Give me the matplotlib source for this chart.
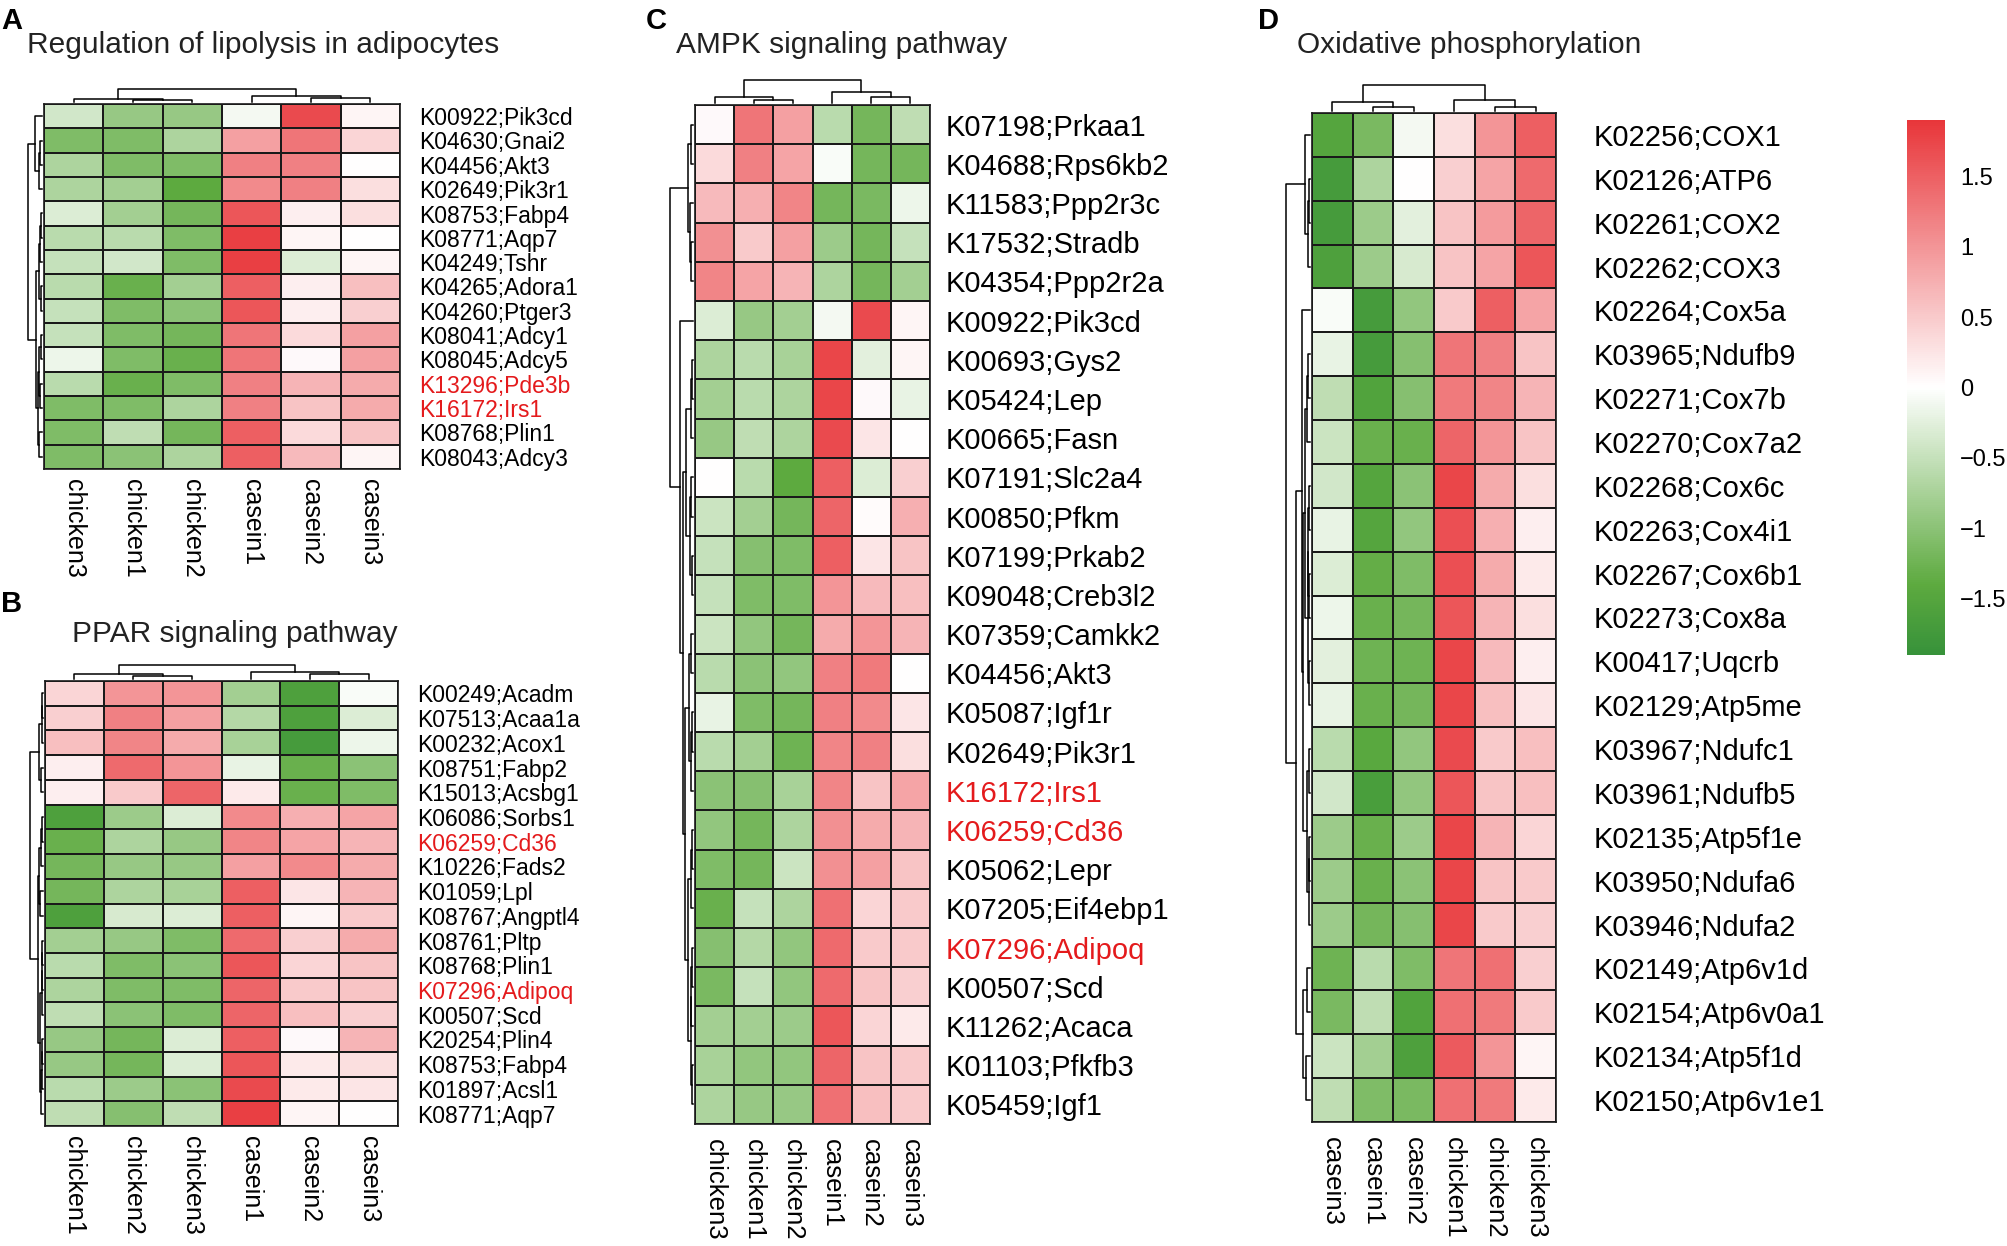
import numpy as np
import matplotlib
matplotlib.use("Agg")
import matplotlib.pyplot as plt
from matplotlib.colors import LinearSegmentedColormap, Normalize
from matplotlib.cm import ScalarMappable

plt.rcParams['font.family'] = ['Liberation Sans', 'DejaVu Sans']

# ---------------- data ----------------
a_title = "Regulation of lipolysis in adipocytes"
a_cols = ["chicken3", "chicken1", "chicken2", "casein1", "casein2", "casein3"]
a_rows = ["K00922;Pik3cd", "K04630;Gnai2", "K04456;Akt3", "K02649;Pik3r1", "K08753;Fabp4",
          "K08771;Aqp7", "K04249;Tshr", "K04265;Adora1", "K04260;Ptger3", "K08041;Adcy1",
          "K08045;Adcy5", "K13296;Pde3b", "K16172;Irs1", "K08768;Plin1", "K08043;Adcy3"]
a_red = ["K13296;Pde3b", "K16172;Irs1"]
a_vals = [
    [-0.40, -0.90, -0.90, -0.10, 1.70, 0.10],
    [-1.10, -1.10, -0.70, 0.90, 1.30, 0.40],
    [-0.70, -1.10, -1.10, 1.20, 1.20, 0.00],
    [-0.70, -0.80, -1.40, 1.10, 1.20, 0.30],
    [-0.30, -0.80, -1.20, 1.60, 0.15, 0.30],
    [-0.60, -0.60, -1.10, 1.80, 0.10, 0.00],
    [-0.50, -0.40, -1.10, 1.80, -0.30, 0.10],
    [-0.60, -1.30, -0.80, 1.50, 0.15, 0.60],
    [-0.50, -1.10, -1.00, 1.60, 0.15, 0.45],
    [-0.50, -1.10, -1.20, 1.30, 0.35, 0.90],
    [-0.15, -1.10, -1.30, 1.30, 0.05, 0.90],
    [-0.60, -1.30, -1.10, 1.20, 0.70, 0.80],
    [-1.10, -1.10, -0.70, 1.20, 0.55, 0.80],
    [-1.10, -0.55, -1.20, 1.50, 0.35, 0.55],
    [-1.10, -1.00, -0.70, 1.50, 0.65, 0.10],
]
a_row_tree = [(1, 2, .12), (15, 3, .2), (0, 16, .48), (4, 5, .08), (18, 6, .15), (7, 8, .08),
              (19, 20, .22), (9, 10, .1), (11, 12, .12), (22, 23, .2), (13, 14, .18),
              (24, 25, .3), (21, 26, .45), (17, 27, 1.0)]
a_col_tree = [(1, 2, .12), (0, 6, .25), (4, 5, .3), (3, 8, .5), (7, 9, 1.0)]

b_title = "PPAR signaling pathway"
b_cols = ["chicken1", "chicken2", "chicken3", "casein1", "casein2", "casein3"]
b_rows = ["K00249;Acadm", "K07513;Acaa1a", "K00232;Acox1", "K08751;Fabp2", "K15013;Acsbg1",
          "K06086;Sorbs1", "K06259;Cd36", "K10226;Fads2", "K01059;Lpl", "K08767;Angptl4",
          "K08761;Pltp", "K08768;Plin1", "K07296;Adipoq", "K00507;Scd", "K20254;Plin4",
          "K08753;Fabp4", "K01897;Acsl1", "K08771;Aqp7"]
b_red = ["K06259;Cd36", "K07296;Adipoq"]
b_vals = [
    [0.40, 1.00, 1.00, -0.80, -1.60, -0.05],
    [0.45, 1.20, 0.90, -0.65, -1.60, -0.30],
    [0.60, 1.15, 0.80, -0.75, -1.70, -0.15],
    [0.15, 1.40, 1.00, -0.20, -1.30, -1.00],
    [0.15, 0.50, 1.45, 0.20, -1.30, -1.10],
    [-1.60, -0.85, -0.30, 1.10, 0.75, 0.85],
    [-1.30, -0.70, -0.90, 1.15, 0.85, 0.70],
    [-1.20, -0.90, -0.90, 0.90, 1.10, 0.80],
    [-1.20, -0.70, -0.75, 1.50, 0.25, 0.70],
    [-1.60, -0.35, -0.30, 1.50, 0.10, 0.50],
    [-0.80, -0.90, -1.10, 1.40, 0.45, 0.80],
    [-0.60, -1.10, -1.00, 1.60, 0.40, 0.55],
    [-0.70, -1.10, -1.10, 1.45, 0.50, 0.55],
    [-0.55, -1.00, -1.10, 1.45, 0.60, 0.45],
    [-0.90, -1.20, -0.30, 1.50, 0.05, 0.70],
    [-0.90, -1.20, -0.30, 1.60, 0.20, 0.30],
    [-0.60, -0.85, -1.00, 1.70, 0.20, 0.25],
    [-0.55, -1.05, -0.55, 1.80, 0.10, 0.00],
]
b_row_tree = [(0, 1, .05), (18, 2, .1), (3, 4, .15), (19, 20, .3), (5, 6, .08), (22, 7, .12),
              (8, 9, .2), (23, 24, .3), (10, 11, .05), (26, 12, .08), (27, 13, .1),
              (14, 15, .08), (29, 16, .1), (30, 17, .12), (28, 31, .2), (25, 32, .4),
              (21, 33, 1.0)]
b_col_tree = [(1, 2, .2), (0, 6, .33), (4, 5, .38), (3, 8, .5), (7, 9, 1.0)]

c_title = "AMPK signaling pathway"
c_cols = ["chicken3", "chicken1", "chicken2", "casein1", "casein2", "casein3"]
c_rows = ["K07198;Prkaa1", "K04688;Rps6kb2", "K11583;Ppp2r3c", "K17532;Stradb", "K04354;Ppp2r2a",
          "K00922;Pik3cd", "K00693;Gys2", "K05424;Lep", "K00665;Fasn", "K07191;Slc2a4",
          "K00850;Pfkm", "K07199;Prkab2", "K09048;Creb3l2", "K07359;Camkk2", "K04456;Akt3",
          "K05087;Igf1r", "K02649;Pik3r1", "K16172;Irs1", "K06259;Cd36", "K05062;Lepr",
          "K07205;Eif4ebp1", "K07296;Adipoq", "K00507;Scd", "K11262;Acaca", "K01103;Pfkfb3",
          "K05459;Igf1"]
c_red = ["K16172;Irs1", "K06259;Cd36", "K07296;Adipoq"]
c_vals = [
    [0.05, 1.30, 0.90, -0.60, -1.20, -0.55],
    [0.35, 1.20, 0.85, -0.05, -1.20, -1.20],
    [0.65, 0.75, 1.15, -1.20, -1.15, -0.15],
    [1.05, 0.50, 0.90, -0.85, -1.20, -0.50],
    [1.15, 0.85, 0.70, -0.70, -1.20, -0.80],
    [-0.30, -0.90, -0.80, -0.10, 1.70, 0.10],
    [-0.70, -0.60, -0.75, 1.75, -0.25, 0.10],
    [-0.80, -0.60, -0.70, 1.75, 0.05, -0.20],
    [-0.90, -0.55, -0.70, 1.70, 0.25, 0.00],
    [0.00, -0.60, -1.40, 1.50, -0.30, 0.45],
    [-0.45, -0.80, -1.20, 1.45, 0.03, 0.75],
    [-0.50, -1.05, -1.10, 1.50, 0.25, 0.55],
    [-0.50, -1.10, -1.10, 1.00, 0.65, 0.60],
    [-0.45, -0.95, -1.20, 0.80, 1.00, 0.70],
    [-0.60, -1.00, -0.95, 1.20, 1.25, 0.00],
    [-0.20, -1.10, -1.20, 1.20, 1.10, 0.25],
    [-0.60, -0.80, -1.25, 1.15, 1.20, 0.30],
    [-1.00, -1.05, -0.75, 1.15, 0.55, 0.85],
    [-0.95, -1.20, -0.70, 1.05, 0.80, 0.70],
    [-1.10, -1.20, -0.45, 1.05, 0.90, 0.55],
    [-1.30, -0.50, -0.70, 1.35, 0.40, 0.50],
    [-1.05, -0.65, -0.95, 1.40, 0.50, 0.50],
    [-1.15, -0.50, -0.95, 1.40, 0.55, 0.45],
    [-0.80, -0.80, -0.85, 1.60, 0.40, 0.20],
    [-0.75, -0.95, -0.95, 1.45, 0.55, 0.50],
    [-0.70, -0.90, -0.90, 1.35, 0.60, 0.50],
]
c_row_tree = [(0, 1, .1), (3, 4, .1), (2, 27, .15), (26, 28, .22), (6, 7, .05), (30, 8, .08),
              (9, 10, .1), (11, 12, .05), (32, 33, .15), (31, 34, .3), (13, 14, .08),
              (15, 16, .06), (37, 17, .1), (36, 38, .18), (18, 19, .05), (40, 20, .1),
              (21, 22, .04), (42, 23, .07), (24, 25, .05), (43, 44, .1), (41, 45, .2),
              (39, 46, .35), (35, 47, .45), (5, 48, .55), (29, 49, 1.0)]
c_col_tree = [(1, 2, .11), (0, 6, .27), (4, 5, .24), (3, 8, .48), (7, 9, 1.0)]

d_title = "Oxidative phosphorylation"
d_cols = ["casein3", "casein1", "casein2", "chicken1", "chicken2", "chicken3"]
d_rows = ["K02256;COX1", "K02126;ATP6", "K02261;COX2", "K02262;COX3", "K02264;Cox5a",
          "K03965;Ndufb9", "K02271;Cox7b", "K02270;Cox7a2", "K02268;Cox6c", "K02263;Cox4i1",
          "K02267;Cox6b1", "K02273;Cox8a", "K00417;Uqcrb", "K02129;Atp5me", "K03967;Ndufc1",
          "K03961;Ndufb5", "K02135;Atp5f1e", "K03950;Ndufa6", "K03946;Ndufa2", "K02149;Atp6v1d",
          "K02154;Atp6v0a1", "K02134;Atp5f1d", "K02150;Atp6v1e1"]
d_red = []
d_vals = [
    [-1.50, -1.15, -0.10, 0.30, 1.00, 1.50],
    [-1.70, -0.70, 0.00, 0.45, 0.85, 1.40],
    [-1.70, -0.85, -0.25, 0.55, 0.95, 1.45],
    [-1.60, -0.85, -0.35, 0.55, 0.85, 1.60],
    [-0.05, -1.70, -0.95, 0.50, 1.50, 0.85],
    [-0.20, -1.70, -1.05, 1.30, 1.20, 0.55],
    [-0.55, -1.55, -1.05, 1.25, 1.15, 0.70],
    [-0.45, -1.30, -1.30, 1.45, 1.00, 0.55],
    [-0.40, -1.50, -1.00, 1.75, 0.80, 0.30],
    [-0.20, -1.50, -0.95, 1.65, 0.75, 0.15],
    [-0.30, -1.35, -1.10, 1.65, 0.80, 0.20],
    [-0.15, -1.30, -1.20, 1.60, 0.70, 0.30],
    [-0.25, -1.25, -1.25, 1.75, 0.65, 0.15],
    [-0.20, -1.30, -1.20, 1.75, 0.60, 0.25],
    [-0.60, -1.45, -0.95, 1.70, 0.50, 0.60],
    [-0.40, -1.65, -0.95, 1.60, 0.55, 0.60],
    [-0.85, -1.30, -0.85, 1.75, 0.70, 0.40],
    [-0.85, -1.30, -1.00, 1.75, 0.55, 0.50],
    [-0.85, -1.20, -1.05, 1.75, 0.50, 0.45],
    [-1.25, -0.60, -1.10, 1.30, 1.35, 0.45],
    [-1.15, -0.55, -1.55, 1.35, 1.25, 0.50],
    [-0.45, -0.80, -1.60, 1.55, 1.00, 0.10],
    [-0.55, -1.10, -1.15, 1.35, 1.25, 0.20],
]
d_row_tree = [(1, 2, .05), (23, 3, .1), (0, 24, .22), (5, 6, .08), (26, 7, .12), (8, 9, .04),
              (10, 11, .04), (28, 29, .07), (12, 13, .04), (30, 31, .1), (27, 32, .2),
              (14, 15, .06), (16, 17, .04), (35, 18, .06), (34, 36, .12), (33, 37, .28),
              (4, 38, .35), (19, 20, .12), (21, 22, .15), (40, 41, .3), (39, 42, .6),
              (25, 43, 1.0)]
d_col_tree = [(1, 2, .17), (0, 6, .35), (4, 5, .17), (3, 8, .43), (7, 9, 1.0)]

cbar_ticks = [1.5, 1, 0.5, 0, -0.5, -1, -1.5]
cbar_labels = ["1.5", "1", "0.5", "0", "\u22120.5", "\u22121", "\u22121.5"]

# ---------------- style ----------------
W, H = 2008, 1246
VMIN, VMAX = -1.9, 1.9
cmap = LinearSegmentedColormap.from_list(
    "gwr", [(0.0, "#37923A"), (0.13, "#5DAA3F"), (0.5, "#FFFFFF"), (1.0, "#E8363A")])
norm = Normalize(VMIN, VMAX)
RED_TXT = "#E41A1C"

fig = plt.figure(figsize=(W / 100, H / 100), dpi=100)


def px_axes(x0, y0, x1, y1):
    return fig.add_axes([x0 / W, 1 - y1 / H, (x1 - x0) / W, (y1 - y0) / H])


def draw_tree(ax, merges, n, side):
    pos = {i: i + 0.5 for i in range(n)}
    hgt = {i: 0.0 for i in range(n)}
    for k, (a, b, h) in enumerate(merges):
        xs = [pos[a], pos[a], pos[b], pos[b]]
        ys = [hgt[a], h, h, hgt[b]]
        if side == "top":
            ax.plot(xs, ys, color="black", lw=1.1, clip_on=False)
        else:
            ax.plot(ys, xs, color="black", lw=1.1, clip_on=False)
        pos[n + k] = (pos[a] + pos[b]) / 2
        hgt[n + k] = h
    ax.axis("off")


def panel(hm, vals, rows, cols, red, row_tree, col_tree, rd_x0, cd_y0,
          row_fs, col_fs, row_pad, col_pad):
    x0, y0, x1, y1 = hm
    data = np.array(vals)
    nr, nc = data.shape
    ax = px_axes(x0, y0, x1, y1)
    ax.pcolormesh(np.arange(nc + 1), np.arange(nr + 1), data, cmap=cmap, norm=norm,
                  edgecolors="#1a1a1a", linewidth=1.2)
    ax.set_xlim(0, nc)
    ax.set_ylim(nr, 0)
    for s in ax.spines.values():
        s.set_linewidth(1.2)
        s.set_color("#1a1a1a")
    ax.yaxis.tick_right()
    ax.set_yticks(np.arange(nr) + 0.5)
    ax.set_yticklabels(rows, fontsize=row_fs)
    for t in ax.get_yticklabels():
        if t.get_text() in red:
            t.set_color(RED_TXT)
    ax.set_xticks(np.arange(nc) + 0.5)
    ax.set_xticklabels(cols, fontsize=col_fs, rotation=270, ha="center", va="top")
    ax.tick_params(axis="y", length=0, pad=row_pad)
    ax.tick_params(axis="x", length=0, pad=col_pad)

    # row dendrogram (left)
    rd = px_axes(rd_x0, y0, x0 - 2, y1)
    rd.set_ylim(nr, 0)
    rd.set_xlim(1.0, 0)
    draw_tree(rd, row_tree, nr, "left")

    # column dendrogram (top)
    cd = px_axes(x0, cd_y0, x1, y0 - 2)
    cd.set_xlim(0, nc)
    cd.set_ylim(0, 1.0)
    draw_tree(cd, col_tree, nc, "top")
    return ax


def title(x, y, s):
    fig.text(x / W, 1 - y / H, s, fontsize=21.5, color="#222222", ha="left", va="center")


def letter(x, y, s):
    fig.text(x / W, 1 - y / H, s, fontsize=21, fontweight="bold", ha="left", va="top")


# panel A
letter(1, 7, "A")
title(27, 45, a_title)
panel((44, 104, 400, 469), a_vals, a_rows, a_cols, a_red, a_row_tree, a_col_tree,
      28, 89, 16.5, 18, 14, 7)

# panel B
letter(1, 590, "B")
title(72, 634, b_title)
panel((45, 681, 398, 1126), b_vals, b_rows, b_cols, b_red, b_row_tree, b_col_tree,
      30, 665, 16.5, 18, 14, 7)

# panel C
letter(646, 7, "C")
title(676, 45, c_title)
panel((695, 105, 930, 1124), c_vals, c_rows, c_cols, c_red, c_row_tree, c_col_tree,
      670, 80, 21, 18.5, 11, 11)

# panel D
letter(1258, 7, "D")
title(1297, 45, d_title)
panel((1312, 113, 1556, 1122), d_vals, d_rows, d_cols, d_red, d_row_tree, d_col_tree,
      1286, 85, 21, 18.5, 27, 11)

# colour key
cax = px_axes(1907, 120, 1945, 655)
cb = fig.colorbar(ScalarMappable(norm=norm, cmap=cmap), cax=cax)
cb.outline.set_visible(False)
cb.set_ticks(cbar_ticks)
cb.set_ticklabels(cbar_labels)
cax.tick_params(length=0, labelsize=17, pad=11)

fig.savefig("out.png", dpi=100)
